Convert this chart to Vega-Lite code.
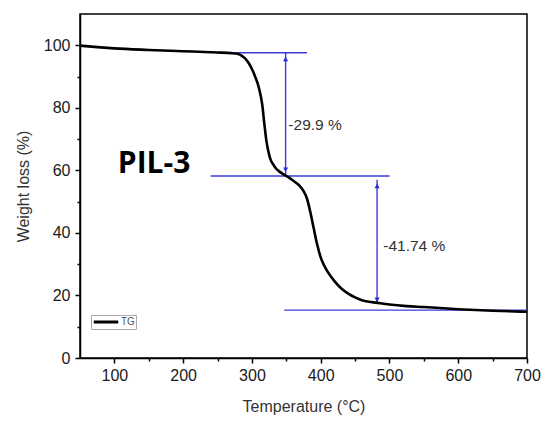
{
  "$schema": "https://vega.github.io/schema/vega-lite/v6.json",
  "autosize": "none",
  "width": 447,
  "height": 344,
  "padding": {"left": 80, "top": 14, "right": 18, "bottom": 63},
  "background": "white",
  "config": {"view": {"stroke": "black", "strokeWidth": 1.5}},
  "datasets": {
    "curve": [
      {"T": 50, "W": 99.9}, {"T": 75, "W": 99.4}, {"T": 100, "W": 99.0}, {"T": 150, "W": 98.5},
      {"T": 200, "W": 98.1}, {"T": 250, "W": 97.7}, {"T": 270, "W": 97.5}, {"T": 280, "W": 97.2},
      {"T": 285, "W": 96.7}, {"T": 290, "W": 95.8}, {"T": 295, "W": 94.4}, {"T": 300, "W": 92.4},
      {"T": 305, "W": 89.8}, {"T": 310, "W": 86.5}, {"T": 315, "W": 81}, {"T": 318, "W": 75},
      {"T": 321, "W": 69.5}, {"T": 324, "W": 66}, {"T": 327, "W": 63.5}, {"T": 330, "W": 62.2},
      {"T": 335, "W": 60.6}, {"T": 340, "W": 59.6}, {"T": 345, "W": 58.9}, {"T": 350, "W": 58.2},
      {"T": 355, "W": 57.5}, {"T": 360, "W": 56.7}, {"T": 365, "W": 55.9}, {"T": 370, "W": 54.9},
      {"T": 375, "W": 53.4}, {"T": 380, "W": 51.0}, {"T": 385, "W": 46.6}, {"T": 390, "W": 41.3},
      {"T": 395, "W": 36.2}, {"T": 400, "W": 32.2}, {"T": 405, "W": 29.6}, {"T": 410, "W": 27.6},
      {"T": 420, "W": 24.6}, {"T": 430, "W": 22.2}, {"T": 440, "W": 20.6}, {"T": 450, "W": 19.4},
      {"T": 460, "W": 18.5}, {"T": 470, "W": 18.0}, {"T": 480, "W": 17.7}, {"T": 500, "W": 17.1},
      {"T": 525, "W": 16.6}, {"T": 550, "W": 16.3}, {"T": 600, "W": 15.6}, {"T": 650, "W": 15.1},
      {"T": 700, "W": 14.8}
    ],
    "rules": [
      {"x1": 250, "x2": 380, "y1": 97.6, "y2": 97.6},
      {"x1": 240, "x2": 500, "y1": 58.2, "y2": 58.2},
      {"x1": 347, "x2": 700, "y1": 15.3, "y2": 15.3},
      {"x1": 349, "x2": 349, "y1": 97.6, "y2": 58.2},
      {"x1": 482, "x2": 482, "y1": 57.0, "y2": 17.7}
    ],
    "heads": [
      {"x": 349, "y": 95.6, "dir": "up"},
      {"x": 349, "y": 60.2, "dir": "down"},
      {"x": 482, "y": 55.0, "dir": "up"},
      {"x": 482, "y": 18.6, "dir": "down"}
    ],
    "labels": [
      {"x": 353, "y": 74.4, "t": "-29.9 %"},
      {"x": 491, "y": 35.9, "t": "-41.74 %"}
    ],
    "title": [{"x": 105, "y": 61.9, "t": "PIL-3"}]
  },
  "encoding": {
    "x": {
      "type": "quantitative",
      "scale": {"domain": [50, 700], "nice": false, "zero": false},
      "axis": {
        "title": "Temperature (°C)",
        "values": [100, 150, 200, 250, 300, 350, 400, 450, 500, 550, 600, 650, 700],
        "labelExpr": "datum.value % 100 === 0 ? datum.label : ''",
        "labelOverlap": false,
        "labelFlush": false,
        "grid": false,
        "domainColor": "black", "domainWidth": 1.5,
        "tickColor": "black", "tickWidth": 1.5,
        "tickSize": {"condition": {"test": "datum.value % 100 === 0", "value": 5}, "value": 3},
        "labelFont": "Liberation Sans", "labelFontSize": 16, "labelColor": "#1a1a1a", "labelPadding": 4,
        "titleFont": "Liberation Sans", "titleFontSize": 16, "titleFontWeight": "normal", "titleColor": "#333", "titlePadding": 15
      }
    },
    "y": {
      "type": "quantitative",
      "scale": {"domain": [0, 110], "nice": false},
      "axis": {
        "title": "Weight loss (%)",
        "values": [0, 10, 20, 30, 40, 50, 60, 70, 80, 90, 100],
        "labelExpr": "datum.value % 20 === 0 ? datum.label : ''",
        "labelOverlap": false,
        "grid": false,
        "domainColor": "black", "domainWidth": 1.5,
        "tickColor": "black", "tickWidth": 1.5,
        "tickSize": {"condition": {"test": "datum.value % 20 === 0", "value": 5}, "value": 3},
        "labelFont": "Liberation Sans", "labelFontSize": 16, "labelColor": "#1a1a1a", "labelPadding": 5,
        "titleFont": "Liberation Sans", "titleFontSize": 16, "titleFontWeight": "normal", "titleColor": "#333", "titlePadding": 12
      }
    }
  },
  "layer": [
    {
      "data": {"name": "rules"},
      "mark": {"type": "rule", "color": "#3a3ad8", "strokeWidth": 1.4},
      "encoding": {
        "x": {"field": "x1", "type": "quantitative"},
        "x2": {"field": "x2"},
        "y": {"field": "y1", "type": "quantitative"},
        "y2": {"field": "y2"}
      }
    },
    {
      "data": {"name": "heads"},
      "mark": {"type": "point", "filled": true, "color": "#2a2ad8", "size": 26, "opacity": 1},
      "encoding": {
        "x": {"field": "x", "type": "quantitative"},
        "y": {"field": "y", "type": "quantitative"},
        "shape": {"field": "dir", "type": "nominal", "scale": {"domain": ["up", "down"], "range": ["triangle-up", "triangle-down"]}, "legend": null}
      }
    },
    {
      "data": {"name": "curve"},
      "mark": {"type": "line", "strokeWidth": 2.6, "interpolate": "monotone"},
      "encoding": {
        "x": {"field": "T", "type": "quantitative"},
        "y": {"field": "W", "type": "quantitative"},
        "color": {
          "datum": "TG",
          "type": "nominal",
          "scale": {"range": ["black"]},
          "legend": {
            "title": null,
            "orient": "none",
            "legendX": 11,
            "legendY": 301,
            "symbolType": "stroke",
            "symbolStrokeWidth": 3,
            "symbolSize": 600,
            "clipHeight": 12,
            "labelFont": "Liberation Sans",
            "labelFontSize": 10,
            "labelColor": "#555",
            "labelOffset": 1,
            "strokeColor": "#aaa",
            "padding": 1
          }
        }
      }
    },
    {
      "data": {"name": "labels"},
      "mark": {"type": "text", "align": "left", "baseline": "middle", "font": "Liberation Sans", "fontSize": 15.5, "color": "#333"},
      "encoding": {
        "x": {"field": "x", "type": "quantitative"},
        "y": {"field": "y", "type": "quantitative"},
        "text": {"field": "t"}
      }
    },
    {
      "data": {"name": "title"},
      "mark": {"type": "text", "align": "left", "baseline": "middle", "font": "Open Sans", "fontWeight": "bold", "fontSize": 30, "color": "black"},
      "encoding": {
        "x": {"field": "x", "type": "quantitative"},
        "y": {"field": "y", "type": "quantitative"},
        "text": {"field": "t"}
      }
    }
  ]
}
